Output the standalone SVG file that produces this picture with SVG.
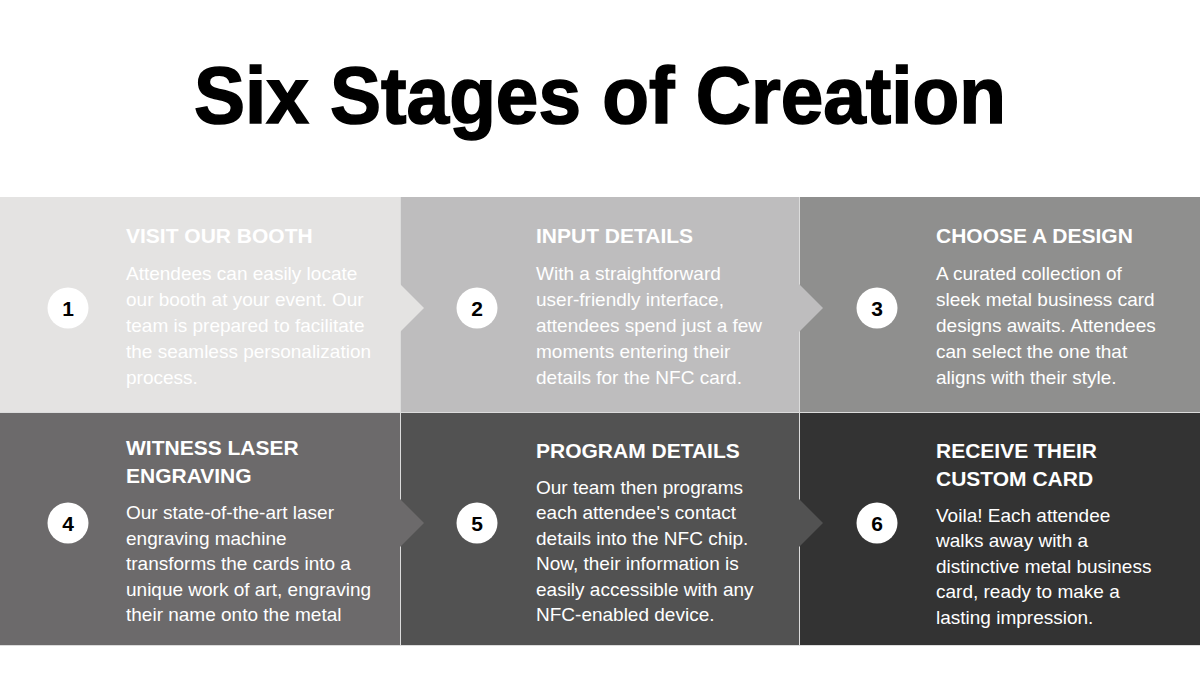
<svg xmlns="http://www.w3.org/2000/svg" width="1200" height="675" viewBox="0 0 1200 675">
<style>
.title{font-family:"Liberation Sans",Arial,sans-serif;font-weight:bold;font-size:80px;fill:#000;stroke:#000;stroke-width:1.6px}
.h{font-family:"Liberation Sans",Arial,sans-serif;font-weight:bold;font-size:21px;fill:#fff}
.b{font-family:"Liberation Sans",Arial,sans-serif;font-size:19px;fill:#fff}
.num{font-family:"Liberation Sans",Arial,sans-serif;font-weight:bold;font-size:21px;fill:#000;text-anchor:middle}
.c{fill:#fff}
</style>
<rect width="1200" height="675" fill="#fff"/>
<text class="title" x="600" y="123" text-anchor="middle" textLength="812" lengthAdjust="spacingAndGlyphs">Six Stages of Creation</text>
<rect x="0" y="197" width="1200" height="449" fill="#dcdcdc"/>
<g id="stage1">
<rect x="0" y="197" width="400" height="215" fill="#e4e3e2"/>
<circle class="c" cx="68" cy="308" r="20.5"/>
<text class="num" x="68" y="315.5">1</text>
<text class="h" x="126" y="243">VISIT OUR BOOTH</text>
<text class="b" x="126" y="280">Attendees can easily locate</text>
<text class="b" x="126" y="306">our booth at your event. Our</text>
<text class="b" x="126" y="332">team is prepared to facilitate</text>
<text class="b" x="126" y="358">the seamless personalization</text>
<text class="b" x="126" y="384">process.</text>
</g>
<g id="stage2">
<rect x="401" y="197" width="398" height="215" fill="#bebdbe"/>
<circle class="c" cx="477" cy="308" r="20.5"/>
<text class="num" x="477" y="315.5">2</text>
<text class="h" x="536" y="243">INPUT DETAILS</text>
<text class="b" x="536" y="280">With a straightforward</text>
<text class="b" x="536" y="306">user-friendly interface,</text>
<text class="b" x="536" y="332">attendees spend just a few</text>
<text class="b" x="536" y="358">moments entering their</text>
<text class="b" x="536" y="384">details for the NFC card.</text>
</g>
<g id="stage3">
<rect x="800" y="197" width="400" height="215" fill="#8f8f8e"/>
<circle class="c" cx="877" cy="308" r="20.5"/>
<text class="num" x="877" y="315.5">3</text>
<text class="h" x="936" y="243">CHOOSE A DESIGN</text>
<text class="b" x="936" y="280">A curated collection of</text>
<text class="b" x="936" y="306">sleek metal business card</text>
<text class="b" x="936" y="332">designs awaits. Attendees</text>
<text class="b" x="936" y="358">can select the one that</text>
<text class="b" x="936" y="384">aligns with their style.</text>
</g>
<g id="stage4">
<rect x="0" y="413" width="400" height="232" fill="#6c6a6b"/>
<circle class="c" cx="68" cy="523" r="20.5"/>
<text class="num" x="68" y="530.5">4</text>
<text class="h" x="126" y="455">WITNESS LASER</text>
<text class="h" x="126" y="483">ENGRAVING</text>
<text class="b" x="126" y="519">Our state-of-the-art laser</text>
<text class="b" x="126" y="545">engraving machine</text>
<text class="b" x="126" y="570">transforms the cards into a</text>
<text class="b" x="126" y="596">unique work of art, engraving</text>
<text class="b" x="126" y="621">their name onto the metal</text>
</g>
<g id="stage5">
<rect x="401" y="413" width="398" height="232" fill="#525252"/>
<circle class="c" cx="477" cy="523" r="20.5"/>
<text class="num" x="477" y="530.5">5</text>
<text class="h" x="536" y="458">PROGRAM DETAILS</text>
<text class="b" x="536" y="494">Our team then programs</text>
<text class="b" x="536" y="519">each attendee's contact</text>
<text class="b" x="536" y="545">details into the NFC chip.</text>
<text class="b" x="536" y="570">Now, their information is</text>
<text class="b" x="536" y="596">easily accessible with any</text>
<text class="b" x="536" y="621">NFC-enabled device.</text>
</g>
<g id="stage6">
<rect x="800" y="413" width="400" height="232" fill="#333333"/>
<circle class="c" cx="877" cy="523" r="20.5"/>
<text class="num" x="877" y="530.5">6</text>
<text class="h" x="936" y="458">RECEIVE THEIR</text>
<text class="h" x="936" y="486">CUSTOM CARD</text>
<text class="b" x="936" y="522">Voila! Each attendee</text>
<text class="b" x="936" y="547">walks away with a</text>
<text class="b" x="936" y="573">distinctive metal business</text>
<text class="b" x="936" y="598">card, ready to make a</text>
<text class="b" x="936" y="624">lasting impression.</text>
</g>
<g id="connectors">
<polygon points="400,284 424,308 400,332" fill="#e4e3e2"/>
<polygon points="799,284 823,308 799,332" fill="#bebdbe"/>
<polygon points="400,499 424,523 400,547" fill="#6c6a6b"/>
<polygon points="799,499 823,523 799,547" fill="#525252"/>
</g>
</svg>
